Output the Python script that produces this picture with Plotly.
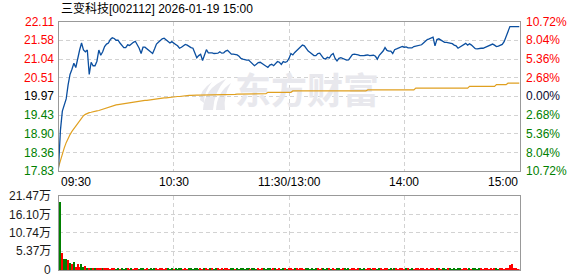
import plotly.graph_objects as go

W, H = 578, 276

# ---------------- data ----------------
title_text = "三变科技[002112] 2026-01-19 15:00"
prev_close = 19.97

price = [
    17.92, 19.00, 19.55, 19.75, 19.90, 20.30, 20.60, 20.75, 20.92, 20.80,
    21.10, 21.30, 21.50, 21.30, 21.25, 21.30, 20.60, 20.95, 20.85, 20.85,
    20.98, 21.30, 21.15, 21.25, 21.40, 21.47, 21.50, 21.60, 21.65, 21.63,
    21.58, 21.58, 21.50, 21.42, 21.37, 21.37, 21.45, 21.43, 21.48, 21.52,
    21.55, 21.45, 21.35, 21.20, 21.38, 21.38, 21.33, 21.30, 21.25, 21.20,
    21.33, 21.47, 21.52, 21.58, 21.62, 21.64, 21.60, 21.55, 21.50, 21.54,
    21.49, 21.46, 21.42, 21.35, 21.38, 21.42, 21.46, 21.44, 21.40, 21.37,
    21.35, 21.20, 21.08, 21.14, 21.18, 21.00, 21.18, 21.31, 21.22, 21.23,
    21.22, 21.20, 21.20, 21.21, 21.25, 21.21, 21.22, 21.27, 21.29, 21.23,
    21.18, 21.18, 21.17, 21.16, 21.12, 21.06, 21.04, 21.02, 21.01, 21.01,
    20.95, 20.89, 20.85, 20.89, 20.94, 20.95, 20.91, 20.87, 20.85, 20.80,
    20.87, 20.89, 20.85, 20.92, 20.97, 20.95, 20.89, 20.97, 20.95, 20.97,
    21.06, 21.20, 21.16, 21.23, 21.29, 21.35, 21.39, 21.44, 21.42, 21.33,
    21.27, 21.23, 21.18, 21.14, 21.14, 21.20, 21.21, 21.13, 21.06, 21.04,
    21.09, 21.07, 21.16, 21.20, 21.06, 20.99, 21.06, 21.08, 21.05, 21.04,
    21.01, 21.02, 21.10, 21.17, 21.18, 21.18, 21.16, 21.14, 21.13, 21.14,
    21.15, 21.16, 21.14, 21.15, 21.15, 21.12, 21.04, 21.15, 21.20, 21.27,
    21.37, 21.29, 21.27, 21.27, 21.20, 21.31, 21.33, 21.35, 21.37, 21.40,
    21.38, 21.39, 21.36, 21.35, 21.36, 21.40, 21.41, 21.41, 21.44, 21.45,
    21.50, 21.56, 21.60, 21.62, 21.65, 21.67, 21.42, 21.60, 21.62, 21.58,
    21.55, 21.52, 21.52, 21.51, 21.50, 21.48, 21.44, 21.42, 21.35, 21.39,
    21.43, 21.46, 21.49, 21.44, 21.48, 21.44, 21.38, 21.34, 21.33, 21.35,
    21.35, 21.35, 21.37, 21.40, 21.41, 21.44, 21.47, 21.44, 21.40, 21.41,
    21.43, 21.46, 21.54, 21.68, 21.87, 21.97, 21.97, 21.97, 21.97, 21.97,
    21.97,
]

avg_price = [
    17.95, 18.15, 18.35, 18.50, 18.65, 18.78, 18.88, 18.97, 19.05, 19.13,
    19.21, 19.29, 19.36, 19.42, 19.46, 19.49, 19.51, 19.52, 19.54, 19.55,
    19.56, 19.57, 19.59, 19.61, 19.63, 19.65, 19.67, 19.69, 19.71, 19.72,
    19.73, 19.74, 19.75, 19.76, 19.77, 19.78, 19.79, 19.79, 19.80, 19.81,
    19.82, 19.83, 19.83, 19.84, 19.85, 19.86, 19.86, 19.87, 19.88, 19.89,
    19.89, 19.90, 19.91, 19.91, 19.92, 19.93, 19.93, 19.94, 19.95, 19.95,
    19.96, 19.96, 19.97, 19.97, 19.98, 19.98, 19.99, 19.99, 20.00, 20.00,
    20.01, 20.01, 20.01, 20.01, 20.01, 20.01, 20.01, 20.01, 20.01, 20.01,
    20.01, 20.01, 20.02, 20.02, 20.02, 20.02, 20.02, 20.02, 20.02, 20.02,
    20.03, 20.03, 20.03, 20.04, 20.04, 20.04, 20.04, 20.04, 20.05, 20.05,
    20.05, 20.05, 20.05, 20.05, 20.05, 20.05, 20.05, 20.05, 20.05, 20.09,
    20.09, 20.09, 20.09, 20.09, 20.09, 20.09, 20.09, 20.09, 20.09, 20.09,
    20.09, 20.09, 20.13, 20.13, 20.13, 20.13, 20.13, 20.13, 20.13, 20.13,
    20.13, 20.13, 20.13, 20.13, 20.13, 20.13, 20.13, 20.13, 20.13, 20.13,
    20.13, 20.13, 20.13, 20.13, 20.13, 20.13, 20.13, 20.13, 20.13, 20.13,
    20.13, 20.13, 20.13, 20.13, 20.13, 20.13, 20.13, 20.13, 20.13, 20.13,
    20.13, 20.16, 20.16, 20.16, 20.16, 20.16, 20.16, 20.16, 20.16, 20.16,
    20.16, 20.16, 20.16, 20.16, 20.16, 20.16, 20.16, 20.16, 20.16, 20.16,
    20.16, 20.16, 20.16, 20.16, 20.16, 20.16, 20.21, 20.21, 20.21, 20.21,
    20.21, 20.21, 20.21, 20.21, 20.21, 20.21, 20.21, 20.21, 20.21, 20.21,
    20.21, 20.21, 20.21, 20.21, 20.21, 20.21, 20.21, 20.21, 20.21, 20.21,
    20.21, 20.21, 20.21, 20.21, 20.26, 20.26, 20.26, 20.26, 20.26, 20.26,
    20.26, 20.26, 20.26, 20.26, 20.26, 20.26, 20.26, 20.26, 20.31, 20.31,
    20.31, 20.31, 20.31, 20.31, 20.35, 20.35, 20.35, 20.35, 20.35, 20.35,
    20.35,
]

# volume in 万 (10k shares)
volume = [
    19.80, 4.80, 3.20, 3.20, 2.90, 1.90, 1.75, 2.20, 0.90, 1.65,
    0.90, 1.65, 1.00, 1.30, 0.50, 0.60, 0.50, 0.60, 0.50, 0.40,
    0.30, 0.30, 0.30, 0.35, 0.30, 0.30, 0.25, 0.30, 0.30, 0.25,
    0.30, 0.25, 0.30, 0.25, 0.30, 0.30, 0.25, 0.30, 0.25, 0.30,
    0.30, 0.25, 0.30, 0.30, 0.25, 0.30, 0.20, 0.30, 0.25, 0.30,
    0.30, 0.25, 0.30, 0.30, 0.25, 0.30, 0.30, 0.20, 0.30, 0.25,
    0.30, 0.25, 0.30, 0.30, 0.20, 0.30, 0.25, 0.30, 0.30, 0.25,
    0.30, 0.30, 0.25, 0.30, 0.20, 0.30, 0.30, 0.25, 0.30, 0.30,
    0.25, 0.30, 0.30, 0.20, 0.30, 0.25, 0.30, 0.30, 0.25, 0.30,
    0.30, 0.25, 0.30, 0.20, 0.30, 0.30, 0.25, 0.30, 0.30, 0.25,
    0.30, 0.30, 0.25, 0.30, 0.20, 0.30, 0.30, 0.25, 0.30, 0.30,
    0.25, 0.30, 0.30, 0.20, 0.30, 0.25, 0.30, 0.30, 0.25, 0.30,
    0.30, 0.25, 0.30, 0.30, 0.20, 0.30, 0.30, 0.25, 0.30, 0.30,
    0.25, 0.30, 0.20, 0.30, 0.30, 0.25, 0.30, 0.30, 0.25, 0.30,
    0.30, 0.20, 0.30, 0.25, 0.30, 0.30, 0.25, 0.30, 0.30, 0.20,
    0.30, 0.25, 0.30, 0.30, 0.25, 0.30, 0.30, 0.20, 0.30, 0.25,
    0.30, 0.30, 0.25, 0.30, 0.30, 0.20, 0.30, 0.30, 0.25, 0.30,
    0.30, 0.25, 0.30, 0.20, 0.30, 0.30, 0.25, 0.30, 0.30, 0.25,
    0.30, 0.30, 0.20, 0.30, 0.25, 0.30, 0.30, 0.25, 0.30, 0.30,
    0.20, 0.30, 0.25, 0.30, 0.30, 0.25, 0.30, 0.30, 0.20, 0.30,
    0.30, 0.25, 0.30, 0.30, 0.25, 0.30, 0.20, 0.30, 0.30, 0.25,
    0.30, 0.30, 0.25, 0.30, 0.20, 0.30, 0.30, 0.25, 0.30, 0.30,
    0.25, 0.30, 0.30, 0.20, 0.30, 0.25, 0.30, 0.30, 0.25, 0.30,
    0.30, 0.25, 0.35, 0.50, 1.45, 1.75, 0.40, 0.30, 0.20, 0.20,
    0.30,
]

# direction of the first bars (d = down/green, u = up/red)
first_dirs = "duddududuuuddududud"

price_ticks = [22.11, 21.58, 21.04, 20.51, 19.97, 19.43, 18.90, 18.36, 17.83]
pct_ticks = ["10.72%", "8.04%", "5.36%", "2.68%", "0.00%", "2.68%", "5.36%", "8.04%", "10.72%"]
vol_ticks = [21.47, 16.10, 10.74, 5.37, 0]
vol_tick_text = ["21.47万", "16.10万", "10.74万", "5.37万", "0"]
time_ticks = [0, 60, 120, 180, 240]
time_labels = ["09:30", "10:30", "11:30/13:00", "14:00", "15:00"]
watermark_text = "东方财富"

# ---------------- styling ----------------
RED = "#ff0000"
GREEN = "#008000"
BLUE = "#0b4fa0"
ORANGE = "#e0a020"
BORDER = "#999999"
GRID = "#d2d2d2"
WM = "#e8e8ed"
FONT = "Liberation Sans, Noto Sans CJK SC, sans-serif"

def px_x(p):
    return p / W

def px_y(p):
    return 1 - p / H

X0, X1 = 58.5, 519.5
P_TOP, P_BOT = 21.7, 171.3
V_TOP, V_BOT = 196.0, 270.0

minutes = list(range(len(price)))
x_range = [time_ticks[0], time_ticks[-1]]
y_range = [price_ticks[-1], price_ticks[0]]

colors = []
for i in range(len(volume)):
    if i < len(first_dirs):
        up = first_dirs[i] == "u"
    else:
        up = price[i] >= price[i - 1]
    colors.append(RED if up else GREEN)

fig = go.Figure()

# watermark text on the base axes (drawn beneath the overlay axes holding the lines)
wm_px_x, wm_px_y = 307.0, 95.5
wm_x = x_range[0] + (wm_px_x - X0) / (X1 - X0) * (x_range[1] - x_range[0])
wm_y = y_range[1] - (wm_px_y - P_TOP) / (P_BOT - P_TOP) * (y_range[1] - y_range[0])
fig.add_trace(go.Scatter(
    x=[wm_x], y=[wm_y], mode="text", text=["<b>" + watermark_text + "</b>"],
    textfont=dict(family="Noto Sans CJK SC", size=36, color=WM),
    xaxis="x", yaxis="y", hoverinfo="skip", showlegend=False,
))

fig.add_trace(go.Scatter(
    x=minutes, y=avg_price, mode="lines",
    line=dict(color=ORANGE, width=1.2), xaxis="x3", yaxis="y3",
    hoverinfo="skip", showlegend=False,
))
fig.add_trace(go.Scatter(
    x=minutes, y=price, mode="lines",
    line=dict(color=BLUE, width=1.3), xaxis="x3", yaxis="y3",
    hoverinfo="skip", showlegend=False,
))
fig.add_trace(go.Bar(
    x=minutes, y=volume, marker=dict(color=colors, line=dict(width=0)),
    width=0.6, offset=0.4, xaxis="x2", yaxis="y2",
    hoverinfo="skip", showlegend=False,
))

dash = "4px,3px"
axis_common = dict(
    showline=True, mirror=True, linecolor=BORDER, linewidth=1,
    showgrid=True, gridcolor=GRID, griddash=dash, gridwidth=1,
    zeroline=False, showticklabels=False, ticks="", fixedrange=True,
)

fig.update_layout(
    width=W, height=H,
    margin=dict(l=0, r=0, t=0, b=0),
    paper_bgcolor="white", plot_bgcolor="white",
    bargap=0,
    xaxis=dict(domain=[px_x(X0), px_x(X1)], range=x_range, anchor="y",
               tickvals=time_ticks[1:-1], **axis_common),
    yaxis=dict(domain=[px_y(P_BOT), px_y(P_TOP)], range=y_range,
               anchor="x", tickvals=price_ticks, **axis_common),
    xaxis2=dict(domain=[px_x(X0), px_x(X1)], range=x_range, anchor="y2",
                tickvals=time_ticks[1:-1], **axis_common),
    yaxis2=dict(domain=[px_y(V_BOT), px_y(V_TOP)], range=[0, vol_ticks[0]],
                anchor="x2", tickvals=vol_ticks, **axis_common),
    xaxis3=dict(domain=[px_x(X0), px_x(X1)], range=x_range, anchor="y3", overlaying="x",
                visible=False, fixedrange=True),
    yaxis3=dict(domain=[px_y(P_BOT), px_y(P_TOP)], range=y_range, anchor="x3", overlaying="y",
                visible=False, fixedrange=True),
    font=dict(family=FONT, size=12, color="#000000"),
)

# watermark logo (decorative leaf shape, below traces)
def pth(points):
    s = ""
    for cmd, pts in points:
        s += cmd + " " + " ".join(f"{px_x(a):.5f},{px_y(b):.5f}" for a, b in pts) + " "
    return s + "Z"

logo1 = pth([("M", [(203, 110)]), ("Q", [(204, 88), (226, 79)]),
             ("Q", [(214, 92), (213, 110)])])
logo2 = pth([("M", [(216, 110)]), ("Q", [(217, 92), (231, 83)]),
             ("Q", [(223, 96), (225, 110)])])
logo3 = pth([("M", [(200, 100)]), ("Q", [(200, 90), (212, 82)]),
             ("Q", [(204, 92), (204, 103)])])
shapes = []
for pth_s in (logo1, logo2, logo3):
    shapes.append(dict(type="path", path=pth_s, xref="paper", yref="paper",
                       fillcolor=WM, line=dict(width=0), layer="below"))
fig.update_layout(shapes=shapes)

ann = []
# title
ann.append(dict(text=title_text, x=px_x(59), y=px_y(8.5), xref="paper", yref="paper",
                xanchor="left", yanchor="middle", showarrow=False,
                font=dict(family=FONT, size=12, color="#000000")))

# price labels (left) and percentage labels (right)
for v, p in zip(price_ticks, pct_ticks):
    if v > prev_close:
        c = RED
    elif v < prev_close:
        c = GREEN
    else:
        c = "#000000"
    ann.append(dict(text=f"{v:.2f}", x=px_x(55.5), y=v, xref="paper", yref="y",
                    xanchor="right", yanchor="middle", showarrow=False,
                    font=dict(family=FONT, size=12, color=c)))
    ann.append(dict(text=p, x=px_x(523.5), y=v, xref="paper", yref="y",
                    xanchor="left", yanchor="middle", showarrow=False,
                    font=dict(family=FONT, size=12, color=c if c != "#000000" else "#0a0a30")))

# volume labels
for v, t in zip(vol_ticks, vol_tick_text):
    ann.append(dict(text=t, x=px_x(53), y=v, xref="paper", yref="y2",
                    xanchor="right", yanchor="middle", showarrow=False,
                    font=dict(family=FONT, size=12, color="#1a1a1a")))

# time labels
for i, (m, t) in enumerate(zip(time_ticks, time_labels)):
    if i == 0:
        xa = "left"
    elif i == len(time_ticks) - 1:
        xa = "right"
    else:
        xa = "center"
    ann.append(dict(text=t, x=m, y=px_y(182), xref="x", yref="paper",
                    xanchor=xa, yanchor="middle", showarrow=False,
                    font=dict(family=FONT, size=12, color="#000000")))

fig.update_layout(annotations=ann)

fig.write_html("out.html")
